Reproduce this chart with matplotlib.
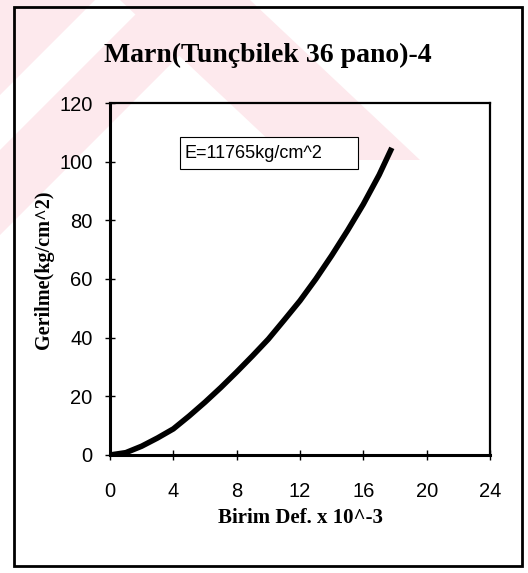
import numpy as np
import matplotlib.pyplot as plt
from matplotlib.patches import Rectangle, Polygon

# Stress-strain data
strain = [0.0, 1.0, 2.0, 3.0, 4.0, 5.0, 6.0, 7.0, 8.0, 9.0, 10.0,
          11.0, 12.0, 13.0, 14.0, 15.0, 16.0, 17.0, 17.8]
stress = [0.0, 0.8, 3.0, 5.8, 8.9, 13.3, 18.0, 23.0, 28.3, 33.8, 39.5,
          46.0, 52.6, 60.0, 68.0, 76.5, 85.5, 95.5, 104.7]

x_ticks = [0, 4, 8, 12, 16, 20, 24]
y_ticks = [0, 20, 40, 60, 80, 100, 120]

title = 'Marn(Tunçbilek 36 pano)-4'
x_label = 'Birim Def. x 10^-3'
y_label = 'Gerilme(kg/cm^2)'
note = 'E=11765kg/cm^2'

W, H = 528, 573
fig = plt.figure(figsize=(W / 100, H / 100), dpi=100)


def fx(px):
    return px / W


def fy(py):
    return 1 - py / H


# faint watermark in the background
wm = '#fde9ed'
stripes = [
    [(0, 0), (95, 0), (0, 95)],
    [(0, 150), (150, 0), (235, 0), (0, 235)],
    [(120, 0), (250, 0), (420, 160), (290, 160)],
]
for pts in stripes:
    fig.patches.append(Polygon([(fx(a), fy(b)) for a, b in pts], closed=True,
                               transform=fig.transFigure, facecolor=wm,
                               edgecolor='none', zorder=-5))

# outer frame
fig.patches.append(Rectangle((fx(14), fy(566)), fx(522) - fx(14), fy(7) - fy(566),
                             transform=fig.transFigure, fill=False,
                             edgecolor='black', linewidth=2, zorder=5))

ax = fig.add_axes([fx(110), fy(455), fx(490) - fx(110), fy(103) - fy(455)])
ax.patch.set_alpha(0)

ax.plot(strain, stress, color='black', linewidth=4, solid_capstyle='butt')

ax.set_xlim(0, 24)
ax.set_ylim(0, 120)
ax.set_xticks(x_ticks)
ax.set_yticks(y_ticks)
ax.tick_params(direction='inout', length=7, width=1, labelsize=14.5)
ax.tick_params(axis='x', pad=16)
ax.tick_params(axis='y', pad=9)
for lab in ax.get_xticklabels() + ax.get_yticklabels():
    lab.set_family('Liberation Sans')

for side in ['left', 'bottom']:
    ax.spines[side].set_linewidth(2.2)
for side in ['top', 'right']:
    ax.spines[side].set_linewidth(1.6)

ax.set_xlabel(x_label, fontfamily='Liberation Serif', fontweight='bold',
              fontsize=15, labelpad=5)
ax.set_ylabel(y_label, fontfamily='Liberation Serif', fontweight='bold',
              fontsize=14.5)
ax.yaxis.set_label_coords(-0.148, 0.525)

fig.text(fx(268), fy(55), title, ha='center', va='center',
         fontfamily='Liberation Serif', fontweight='bold', fontsize=20)

# annotation box (wider than its text, as in the original)
ax.add_patch(Rectangle((0.184, 0.812), 0.469, 0.09, transform=ax.transAxes,
                       facecolor='white', edgecolor='black', linewidth=0.8,
                       zorder=3))
ax.text(0.195, 0.857, note, transform=ax.transAxes, fontsize=13,
        fontfamily='Liberation Sans', va='center', ha='left', zorder=4)

fig.savefig('out.png', dpi=100)
